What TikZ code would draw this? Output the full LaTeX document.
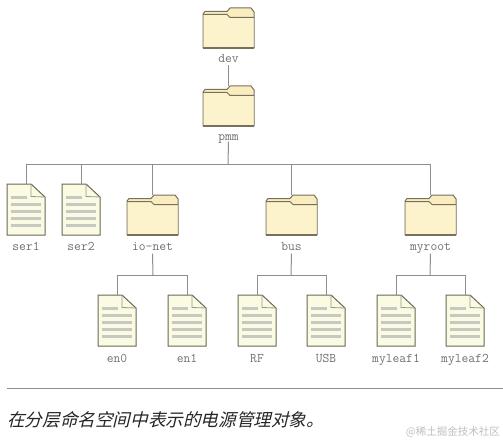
\documentclass[tikz,border=0pt]{standalone}
\usepackage{fontspec}
\newfontfamily\cjkit[FakeSlant=0.24]{Noto Sans CJK SC}
\newfontfamily\cjk{Noto Sans CJK SC}
\definecolor{edgeC}{HTML}{8E8E8E}
\definecolor{folderF}{HTML}{FCF2CC}
\definecolor{folderB}{HTML}{F9EDC0}
\definecolor{folderE}{HTML}{77705C}
\definecolor{docF}{HTML}{FBFAE2}
\definecolor{docE}{HTML}{6A6A55}
\definecolor{docL}{HTML}{C8C8C2}
\definecolor{labelC}{HTML}{707070}
\tikzset{
  x=1pt,y=-1pt,
  conn/.style={draw=edgeC,line width=1pt},
  folderbox/.style={rectangle,inner sep=0pt,outer sep=0pt,minimum width=51pt,minimum height=40pt,anchor=north west},
  docbox/.style={rectangle,inner sep=0pt,outer sep=0pt,minimum width=38pt,minimum height=51pt,anchor=north west},
  lab/.style={font=\ttfamily\fontsize{13.2}{14}\selectfont,text=labelC,inner sep=0pt,anchor=center,text height=7pt,text depth=0pt},
}
\newcommand{\myfolder}[5]{% name x y label labely
  \node[folderbox] (#1) at (#2,#3) {};
  \begin{scope}[shift={(#2,#3)}]
    \draw[folderE,line width=1pt,fill=folderB,line join=round]
      (0,6)--(2,3.5)--(24,3.5)--(27,0)--(48,0)--(51,4)--(51,40)--(0,40)--cycle;
    \fill[folderF] (0.5,7)--(24,7)--(27,9.5)--(50.5,9.5)--(50.5,39.5)--(0.5,39.5)--cycle;
    \draw[folderE,line width=1pt] (0,6.5)--(24,6.5)--(27,9.5)--(51,9.5);
    \draw[folderE,line width=1.2pt] (0,40)--(51,40);
  \end{scope}
  \node[lab] (#1l) at (#2+25.5,#5) {#4};
}
\newcommand{\mydoc}[5]{%
  \node[docbox] (#1) at (#2,#3) {};
  \begin{scope}[shift={(#2,#3)}]
    \draw[docE,line width=1pt,fill=docF,line join=miter] (0,0)--(24,0)--(38,13)--(38,51)--(0,51)--cycle;
    \draw[docE!70,line width=.8pt] (24,0)--(24,12.5)--(38,13);
    \foreach \ly/\lx in {12/20,19/34,26/34,33/34,40/34}
      \fill[docL] (4,\ly) rectangle (\lx,\ly+3);
  \end{scope}
  \node[lab] (#1l) at (#2+19,#5) {#4};
}
\begin{document}
\begin{tikzpicture}
\useasboundingbox (0,0) rectangle (503,441);
\fill[white] (0,0) rectangle (503,441);

% shapes
\myfolder{dev}{203}{8}{dev}{59.5}
\myfolder{pmm}{203}{86}{pmm}{136.5}
\mydoc{serone}{7}{184}{ser1}{247}
\mydoc{sertwo}{62}{184}{ser2}{247}
\myfolder{ionet}{127}{195}{io-net}{247}
\myfolder{bus}{266}{195}{bus}{247}
\myfolder{myroot}{405}{195}{myroot}{247}
\mydoc{enzero}{98}{295}{en0}{359}
\mydoc{enone}{168}{295}{en1}{359}
\mydoc{rf}{238}{295}{RF}{359}
\mydoc{usb}{307}{295}{USB}{359}
\mydoc{leafone}{377}{295}{myleaf1}{359}
\mydoc{leaftwo}{446}{295}{myleaf2}{359}

% junctions
\coordinate (jtop) at (228,164);
\coordinate (jio) at (153,275);
\coordinate (jbus) at (291,275);
\coordinate (jroot) at (430,275);

% connectors
\begin{scope}[every path/.style={conn}]
\path ([yshift=-2pt]devl.south) -- (pmm.north);
\path ([yshift=-1.5pt]pmml.south) -- (jtop);
\path (jtop) -| (serone.north);
\path (jtop) -| (sertwo.north);
\path (jtop) -| (ionet.north);
\path (jtop) -| (bus.north);
\path (jtop) -| (myroot.north);
\path ([yshift=-3pt]ionetl.south) -- (jio);
\path (jio) -| (enzero.north);
\path (jio) -| (enone.north);
\path ([yshift=-3pt]busl.south) -- (jbus);
\path (jbus) -| (rf.north);
\path (jbus) -| (usb.north);
\path ([yshift=-3pt]myrootl.south) -- (jroot);
\path (jroot) -| (leafone.north);
\path (jroot) -| (leaftwo.north);
\end{scope}

% caption
\coordinate (rulea) at (7,388);
\coordinate (ruleb) at (503,388);
\draw[edgeC,line width=1pt] (rulea) -- (ruleb);
\node[anchor=west,inner sep=0pt,text=black!85] (caption) at (7,420) {\cjkit\fontsize{17.6}{20}\selectfont 在分层命名空间中表示的电源管理对象。};
\node[anchor=east,inner sep=0pt,text=black!25] (mark) at (500,432) {\cjk\fontsize{10.5}{12}\selectfont @稀土掘金技术社区};
\end{tikzpicture}
\end{document}
